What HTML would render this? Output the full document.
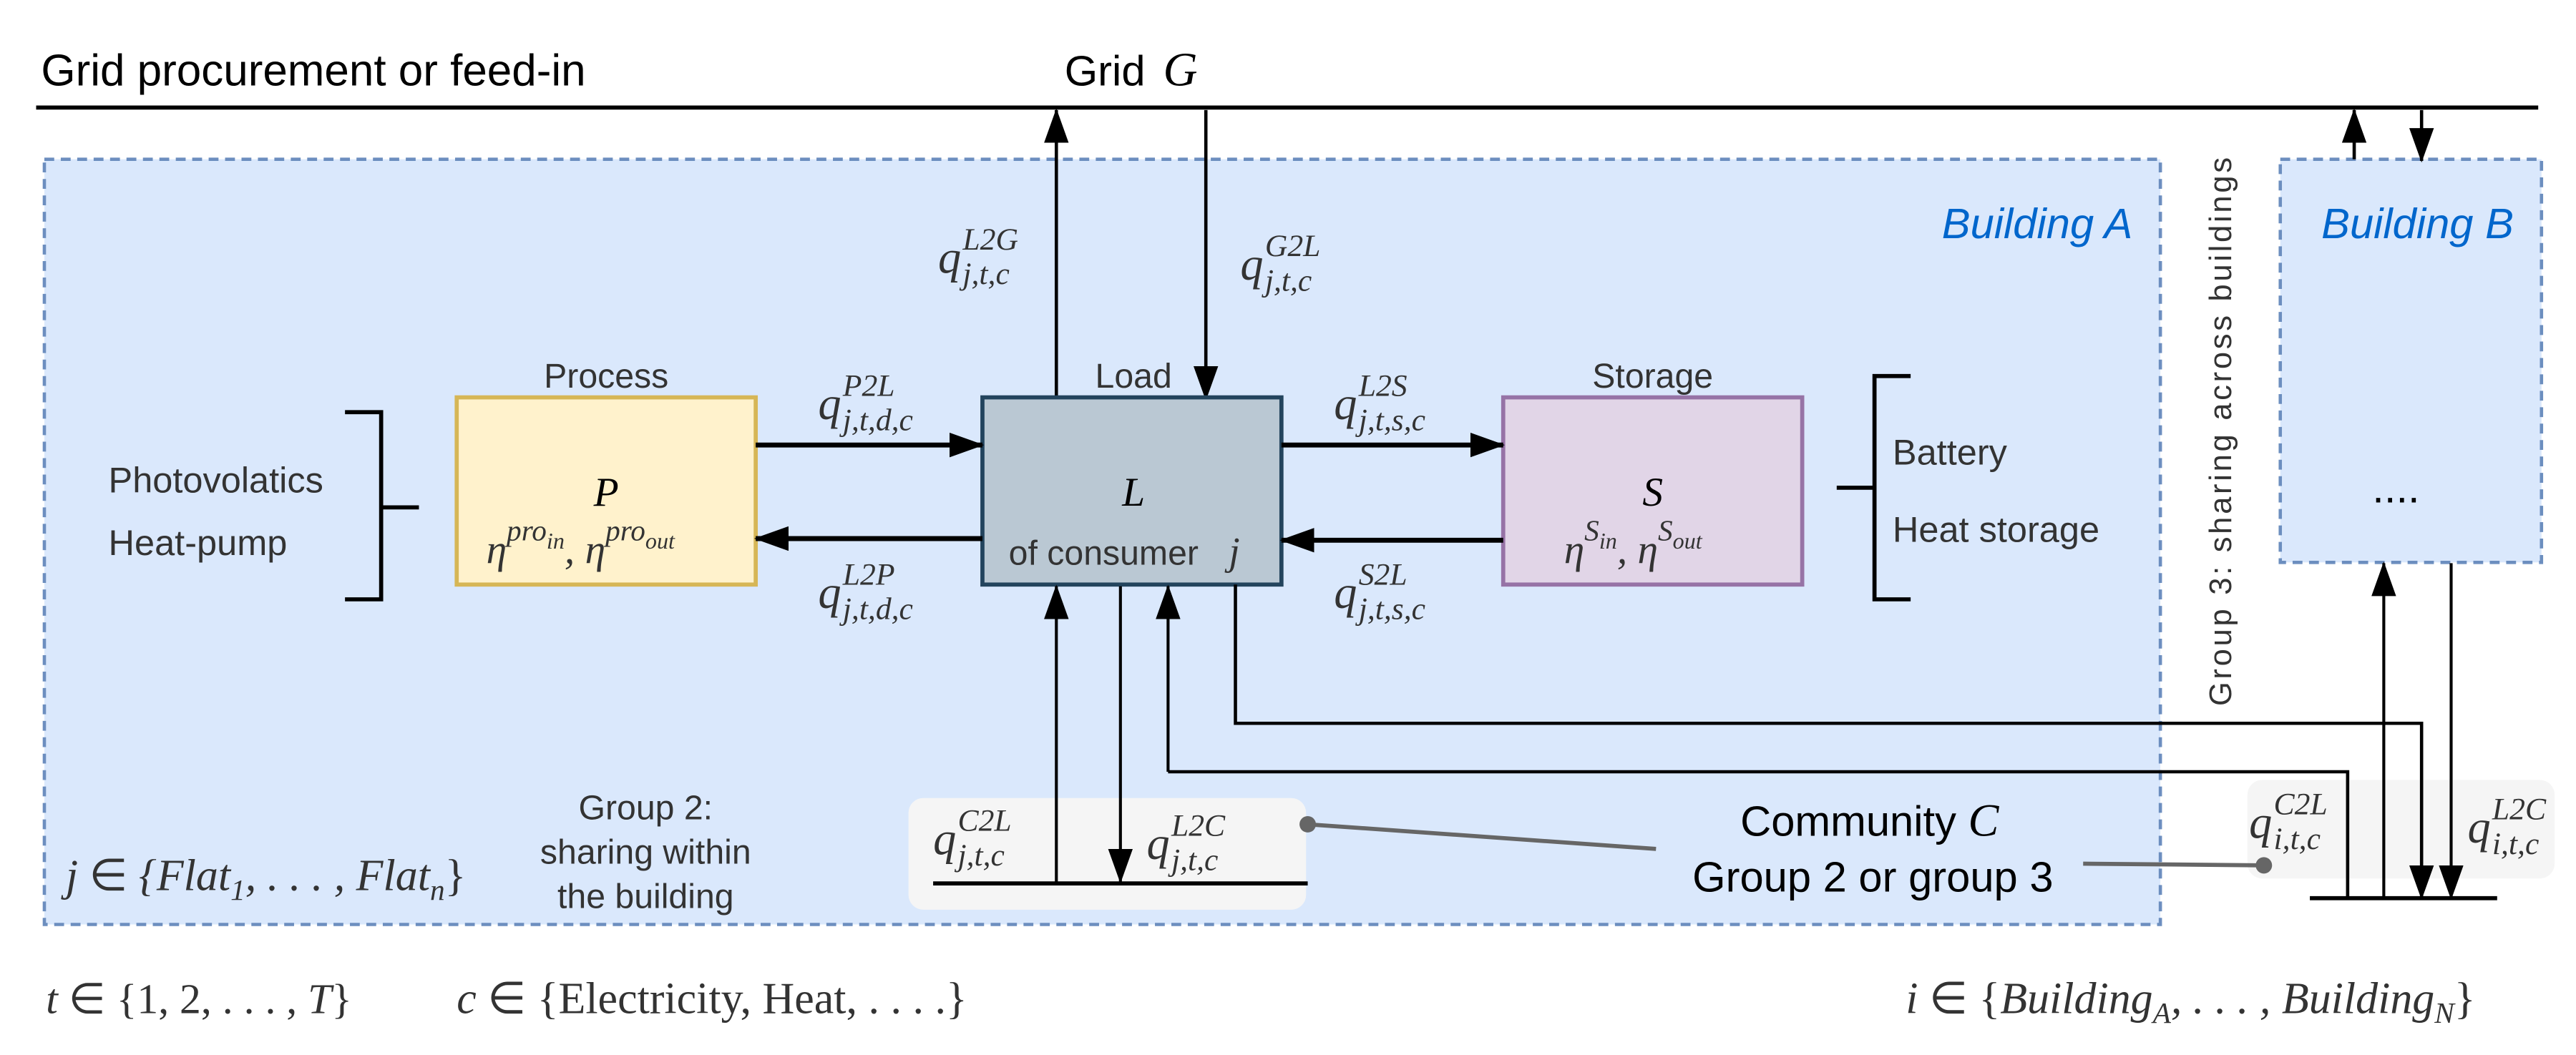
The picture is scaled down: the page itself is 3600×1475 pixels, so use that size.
<!DOCTYPE html>
<html><head><meta charset="utf-8"><style>
html,body{margin:0;padding:0;background:#fff;}
svg{display:block;}
.s{font-family:"Liberation Sans",sans-serif;fill:#333;}
.m{font-family:"Liberation Serif",serif;font-style:italic;fill:#333;}
.n{font-style:normal;}
</style></head><body>
<svg width="3600" height="1475" viewBox="0 0 1568 642.5" preserveAspectRatio="none" xmlns="http://www.w3.org/2000/svg">
<defs>
<marker id="a" markerUnits="userSpaceOnUse" markerWidth="21" markerHeight="15" refX="20" refY="7.5" orient="auto"><path d="M0,0 L21,7.5 L0,15 Z" fill="#000"/></marker>
</defs>
<!-- grid -->
<text class="s" x="25" y="52" font-size="27" style="fill:#000">Grid procurement or feed-in</text>
<text class="s" x="648" y="52" font-size="26" style="fill:#000">Grid</text>
<text class="m" x="708" y="52" font-size="29" style="fill:#000">G</text>
<line x1="22" y1="65.5" x2="1545" y2="65.5" stroke="#000" stroke-width="2.5"/>

<!-- buildings -->
<rect x="27" y="97" width="1288" height="466" fill="#dae8fc" stroke="#6c8ebf" stroke-width="2" stroke-dasharray="6,4"/>
<rect x="1388" y="97" width="159" height="245.5" fill="#dae8fc" stroke="#6c8ebf" stroke-width="2" stroke-dasharray="6,4"/>
<text class="s" x="1182" y="145" font-size="26" font-style="italic" style="fill:#0066cc">Building A</text>
<text class="s" x="1413" y="145" font-size="26" font-style="italic" style="fill:#0066cc">Building B</text>
<text class="s" x="1444" y="306" font-size="26" style="fill:#000">....</text>
<text class="s" font-size="19" letter-spacing="1.6" transform="translate(1358,430) rotate(-90)" style="fill:#333">Group 3: sharing across buildings</text>

<!-- grid arrows -->
<line x1="643" y1="243" x2="643" y2="67" stroke="#000" stroke-width="2" marker-end="url(#a)"/>
<line x1="734" y1="67" x2="734" y2="243" stroke="#000" stroke-width="2" marker-end="url(#a)"/>
<line x1="1433" y1="97" x2="1433" y2="67" stroke="#000" stroke-width="2" marker-end="url(#a)"/>
<line x1="1474" y1="67" x2="1474" y2="98" stroke="#000" stroke-width="2" marker-end="url(#a)"/>

<!-- q L2G / G2L -->
<text class="m" x="571" y="166" font-size="28">q</text><text class="m" x="586" y="152" font-size="19">L2G</text><text class="m" x="586" y="173" font-size="19">j,t,c</text>
<text class="m" x="755" y="170" font-size="28">q</text><text class="m" x="770" y="156" font-size="19">G2L</text><text class="m" x="770" y="177" font-size="19">j,t,c</text>

<!-- boxes -->
<rect x="278" y="242" width="182" height="114" fill="#fff2cc" stroke="#d6b656" stroke-width="2.5"/>
<rect x="598" y="242" width="182" height="114" fill="#bac8d3" stroke="#23445d" stroke-width="2.5"/>
<rect x="915" y="242" width="182" height="114" fill="#e1d5e7" stroke="#9673a6" stroke-width="2.5"/>
<text class="s" x="369" y="236" font-size="21" text-anchor="middle">Process</text>
<text class="s" x="690" y="236" font-size="21" text-anchor="middle">Load</text>
<text class="s" x="1006" y="236" font-size="21" text-anchor="middle">Storage</text>
<text class="m" x="369" y="308" font-size="25" text-anchor="middle" style="fill:#000">P</text>
<text class="m" x="690" y="308" font-size="25" text-anchor="middle" style="fill:#000">L</text>
<text class="m" x="1006" y="308" font-size="25" text-anchor="middle" style="fill:#000">S</text>
<text class="m" x="296" y="343" font-size="25">η<tspan font-size="18" dy="-14">pro</tspan><tspan font-size="14" dy="5">in</tspan><tspan font-size="25" dy="9">, η</tspan><tspan font-size="18" dy="-14">pro</tspan><tspan font-size="14" dy="5">out</tspan></text>
<text class="s" x="614" y="344" font-size="21">of consumer</text><text class="m" x="748" y="344" font-size="24">j</text>
<text class="m" x="952" y="343" font-size="25">η<tspan font-size="18" dy="-14">S</tspan><tspan font-size="14" dy="5">in</tspan><tspan font-size="25" dy="9">, η</tspan><tspan font-size="18" dy="-14">S</tspan><tspan font-size="14" dy="5">out</tspan></text>

<!-- horizontal arrows -->
<line x1="460" y1="271" x2="598" y2="271" stroke="#000" stroke-width="3" marker-end="url(#a)"/>
<line x1="598" y1="328" x2="460" y2="328" stroke="#000" stroke-width="3" marker-end="url(#a)"/>
<line x1="780" y1="271" x2="915" y2="271" stroke="#000" stroke-width="3" marker-end="url(#a)"/>
<line x1="915" y1="329" x2="780" y2="329" stroke="#000" stroke-width="3" marker-end="url(#a)"/>
<text class="m" x="498" y="255" font-size="28">q</text><text class="m" x="513" y="241" font-size="19">P2L</text><text class="m" x="513" y="262" font-size="19">j,t,d,c</text>
<text class="m" x="498" y="370" font-size="28">q</text><text class="m" x="513" y="356" font-size="19">L2P</text><text class="m" x="513" y="377" font-size="19">j,t,d,c</text>
<text class="m" x="812" y="255" font-size="28">q</text><text class="m" x="827" y="241" font-size="19">L2S</text><text class="m" x="827" y="262" font-size="19">j,t,s,c</text>
<text class="m" x="812" y="370" font-size="28">q</text><text class="m" x="827" y="356" font-size="19">S2L</text><text class="m" x="827" y="377" font-size="19">j,t,s,c</text>

<!-- brackets -->
<path d="M210,251 H232 V365 H210 M232,309 H255" fill="none" stroke="#000" stroke-width="2.5"/>
<path d="M1163,229 H1141 V365 H1163 M1141,297 H1118" fill="none" stroke="#000" stroke-width="2.5"/>
<text class="s" x="66" y="300" font-size="22">Photovolatics</text>
<text class="s" x="66" y="338" font-size="22">Heat-pump</text>
<text class="s" x="1152" y="283" font-size="22">Battery</text>
<text class="s" x="1152" y="330" font-size="22">Heat storage</text>

<!-- community boxes -->
<rect x="553" y="486" width="242" height="68" rx="9" fill="#f5f5f5"/>
<rect x="1368" y="475" width="187" height="60" rx="9" fill="#f5f5f5"/>

<!-- bottom connectors -->
<line x1="643" y1="537" x2="643" y2="357" stroke="#000" stroke-width="1.8" marker-end="url(#a)"/>
<line x1="682" y1="357" x2="682" y2="537" stroke="#000" stroke-width="1.8" marker-end="url(#a)"/>
<line x1="711" y1="470" x2="711" y2="357" stroke="#000" stroke-width="1.8" marker-end="url(#a)"/>
<polyline points="711,470 1429,470 1429,547" fill="none" stroke="#000" stroke-width="2"/>
<polyline points="752,356 752,440.5 1474,440.5 1474,547" fill="none" stroke="#000" stroke-width="2" marker-end="url(#a)"/>
<line x1="1451" y1="547" x2="1451" y2="343" stroke="#000" stroke-width="1.8" marker-end="url(#a)"/>
<line x1="1492" y1="343" x2="1492" y2="547" stroke="#000" stroke-width="1.8" marker-end="url(#a)"/>
<line x1="568" y1="538" x2="796" y2="538" stroke="#000" stroke-width="2.5"/>
<line x1="1406" y1="547" x2="1520" y2="547" stroke="#000" stroke-width="2.5"/>

<text class="m" x="568" y="520" font-size="28">q</text><text class="m" x="583" y="506" font-size="19">C2L</text><text class="m" x="583" y="527" font-size="19">j,t,c</text>
<text class="m" x="698" y="523" font-size="28">q</text><text class="m" x="713" y="509" font-size="19">L2C</text><text class="m" x="713" y="530" font-size="19">j,t,c</text>
<text class="m" x="1369" y="510" font-size="28">q</text><text class="m" x="1384" y="496" font-size="19">C2L</text><text class="m" x="1384" y="517" font-size="19">i,t,c</text>
<text class="m" x="1502" y="513" font-size="28">q</text><text class="m" x="1517" y="499" font-size="19">L2C</text><text class="m" x="1517" y="520" font-size="19">i,t,c</text>

<!-- community links -->
<line x1="796" y1="502" x2="1008" y2="517" stroke="#666" stroke-width="2.5"/>
<circle cx="796" cy="502" r="5" fill="#666"/>
<line x1="1268" y1="526" x2="1378" y2="527" stroke="#666" stroke-width="2.5"/>
<circle cx="1378" cy="527" r="5" fill="#666"/>
<text class="s" x="1138" y="509" font-size="26" text-anchor="middle" style="fill:#000">Community <tspan style="font-family:'Liberation Serif',serif;font-style:italic" font-size="28">C</tspan></text>
<text class="s" x="1140" y="543" font-size="26" text-anchor="middle" style="fill:#000">Group 2 or group 3</text>
<text class="s" x="393" y="499" font-size="21" text-anchor="middle">Group 2:</text>
<text class="s" x="393" y="526" font-size="21" text-anchor="middle">sharing within</text>
<text class="s" x="393" y="553" font-size="21" text-anchor="middle">the building</text>
<text class="m" x="40" y="542" font-size="27">j <tspan class="n">∈</tspan> {Flat<tspan font-size="18" dy="6">1</tspan><tspan dy="-6">, . . . , Flat</tspan><tspan font-size="18" dy="6">n</tspan><tspan dy="-6" class="n">}</tspan></text>

<!-- bottom legend -->
<text class="m" x="28" y="617" font-size="26">t <tspan class="n">∈ {1, 2, . . . ,</tspan> T<tspan class="n">}</tspan></text>
<text class="m" x="278" y="617" font-size="27">c <tspan class="n">∈ {Electricity, Heat, . . . .}</tspan></text>
<text class="m" x="1160" y="617" font-size="27">i <tspan class="n">∈ {</tspan>Building<tspan font-size="18" dy="6">A</tspan><tspan dy="-6">, . . . , Building</tspan><tspan font-size="18" dy="6">N</tspan><tspan dy="-6" class="n">}</tspan></text>
</svg>
</body></html>
